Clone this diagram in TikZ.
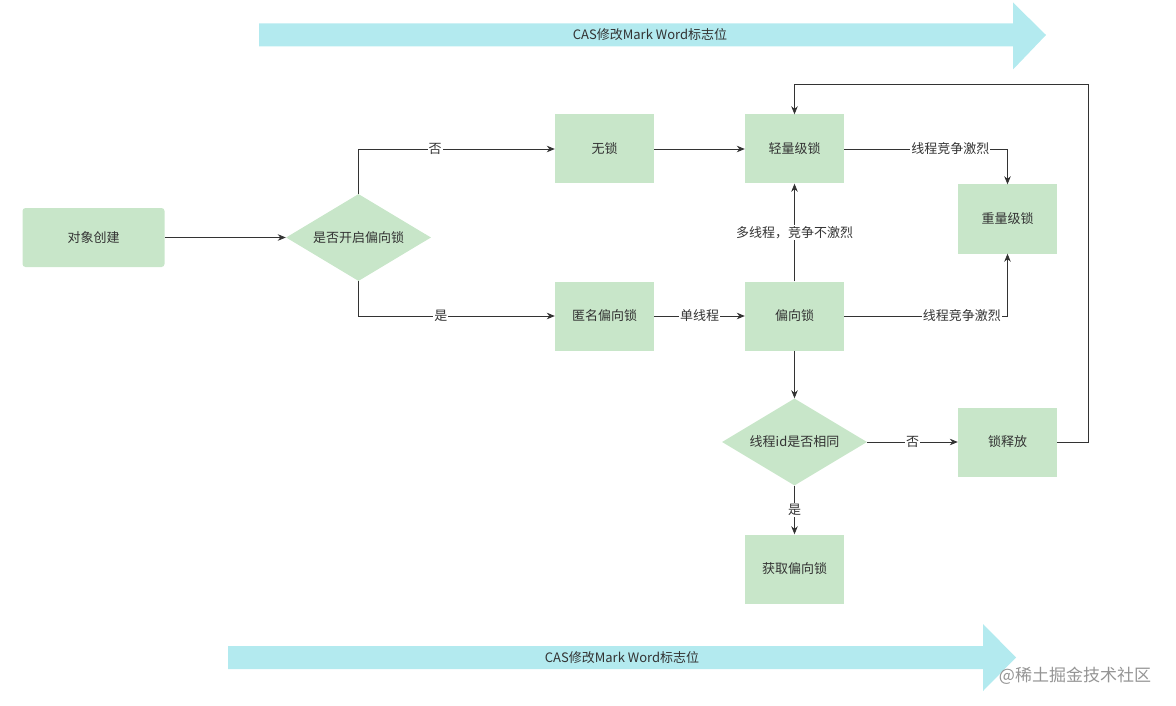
\documentclass[tikz,border=0pt]{standalone}
\usepackage{fontspec}
\setmainfont{Noto Sans CJK SC}
\usetikzlibrary{shapes.geometric,arrows.meta}
\definecolor{boxgreen}{HTML}{C8E6C9}
\definecolor{band}{HTML}{B3EAEF}
\definecolor{ink}{HTML}{333333}
\begin{document}
\begin{tikzpicture}[x=1pt,y=-1pt,
  every node/.style={font=\fontsize{13}{15}\selectfont, text=ink},
  box/.style={rectangle, fill=boxgreen, minimum width=99pt, minimum height=69pt, inner sep=0pt},
  rbox/.style={box, rounded corners=3pt, minimum width=142pt, minimum height=59pt},
  decision/.style={diamond, fill=boxgreen, minimum width=145pt, minimum height=87pt, inner sep=0pt, aspect=1.67},
  conn/.style={draw=ink, line width=0.8pt, -{Stealth[length=8pt,width=6.5pt,inset=2.5pt]}},
  lbl/.style={fill=white, inner sep=1pt},
  bandtext/.style={font=\fontsize{13}{15}\selectfont}
]
\useasboundingbox (0,0) rectangle (1176,706);

% banners
\fill[band] (259,23.5) -- (1013,23.5) -- (1013,2.5) -- (1046,35) -- (1013,69.5) -- (1013,46.5) -- (259,46.5) -- cycle;
\node[bandtext] (bandtop) at (650,35) {CAS修改Mark Word标志位};
\fill[band] (228,646) -- (983,646) -- (983,624) -- (1016,657.5) -- (983,691) -- (983,669) -- (228,669) -- cycle;
\node[bandtext] (bandbot) at (622,657.5) {CAS修改Mark Word标志位};

% nodes
\node[rbox] (obj) at (93.5,237.5) {对象创建};
\node[decision] (q1) at (358.5,237.5) {是否开启偏向锁};
\node[box] (nolock) at (604.5,149) {无锁};
\node[box] (light) at (794.5,149) {轻量级锁};
\node[box] (heavy) at (1007.5,219) {重量级锁};
\node[box] (anon) at (604.5,316) {匿名偏向锁};
\node[box] (biased) at (794.5,316) {偏向锁};
\node[decision] (q2) at (794.5,442) {线程id是否相同};
\node[box] (release) at (1007.5,442) {锁释放};
\node[box] (get) at (794.5,569) {获取偏向锁};
\coordinate (loopR) at (1088,84);

% connectors
\draw[conn] (obj) -- (q1);
\draw[conn] (q1.north) |- (nolock.west) node[lbl, pos=0.695] {否};
\draw[conn] (q1.south) |- (anon.west) node[lbl, pos=0.71] {是};
\draw[conn] (nolock) -- (light);
\draw[conn] (anon) -- (biased) node[lbl, midway] {单线程};
\draw[conn] (biased) -- (light) node[lbl, midway] {多线程，竞争不激烈};
\draw[conn] (light.east) -| (heavy.north) node[lbl, pos=0.325] {线程竞争激烈};
\draw[conn] (biased.east) -| (heavy.south) node[lbl, pos=0.36] {线程竞争激烈};
\draw[conn] (biased) -- (q2);
\draw[conn] (q2.east) -- (release.west) node[lbl, midway] {否};
\draw[conn] (q2.south) -- (get.north) node[lbl, midway] {是};
\draw[conn] (release.east) -| (loopR) -| (light.north);

% watermark
\node[font=\fontsize{17}{19}\selectfont, text=black!42] (wm) at (1075,676) {@稀土掘金技术社区};
\end{tikzpicture}
\end{document}
